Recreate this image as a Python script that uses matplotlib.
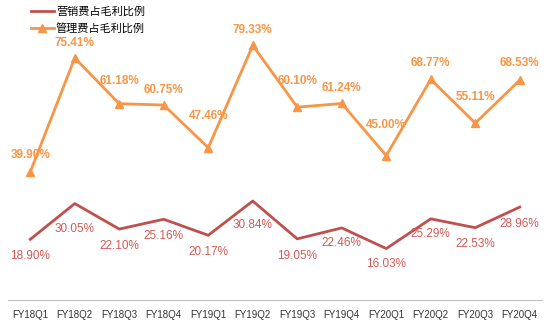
import matplotlib.pyplot as plt
import numpy as np

plt.rcParams['font.family'] = ['Liberation Sans', 'Noto Sans CJK SC', 'DejaVu Sans']

#====Data====
quarters = ['FY18Q1', 'FY18Q2', 'FY18Q3', 'FY18Q4', 'FY19Q1', 'FY19Q2',
            'FY19Q3', 'FY19Q4', 'FY20Q1', 'FY20Q2', 'FY20Q3', 'FY20Q4']
sales_ratio = [18.90, 30.05, 22.10, 25.16, 20.17, 30.84,
               19.05, 22.46, 16.03, 25.29, 22.53, 28.96]
admin_ratio = [39.90, 75.41, 61.18, 60.75, 47.46, 79.33,
               60.10, 61.24, 45.00, 68.77, 55.11, 68.53]

# label offsets in points (below / above the marks)
sales_off = [12, 18, 12, 12, 12, 17, 12, 11, 11, 11, 12, 12]
admin_off = [12, 11, 16, 11, 23, 11, 19, 11, 22, 12, 19, 12]

red = '#C0504D'
orange = '#F79646'

#====Plot====
fig = plt.figure(figsize=(5.54, 3.24), dpi=100)
ax = fig.add_axes([8/554, 24/324, 534/554, 292/324])
x = np.arange(len(quarters))

ax.plot(x, sales_ratio, color=red, lw=2, label='营销费占毛利比例')
ax.plot(x, admin_ratio, color=orange, lw=2, marker='^', ms=6, label='管理费占毛利比例')

for xi, v, o in zip(x, sales_ratio, sales_off):
    ax.annotate('%.2f%%' % v, (xi, v), xytext=(0, -o), textcoords='offset points',
                ha='center', va='center', fontsize=8.5, color='#D05A57')
for xi, v, o in zip(x, admin_ratio, admin_off):
    ax.annotate('%.2f%%' % v, (xi, v), xytext=(0, o), textcoords='offset points',
                ha='center', va='center', fontsize=8.5, color=orange, fontweight='bold')

ax.set_xlim(-0.5, 11.5)
ax.set_ylim(0, 91)
ax.set_xticks(x)
ax.set_xticklabels(quarters, fontsize=7, color='#333333')
ax.set_yticks([])
ax.tick_params(axis='x', length=0, pad=7)
for s in ['top', 'right', 'left']:
    ax.spines[s].set_visible(False)
ax.spines['bottom'].set_color('#BFBFBF')

ax.legend(loc='upper left', bbox_to_anchor=(0.025, 1.04), frameon=False,
          fontsize=8, handlelength=2.0, handletextpad=0.2, labelspacing=0.6)

fig.savefig('out.png', dpi=100)
